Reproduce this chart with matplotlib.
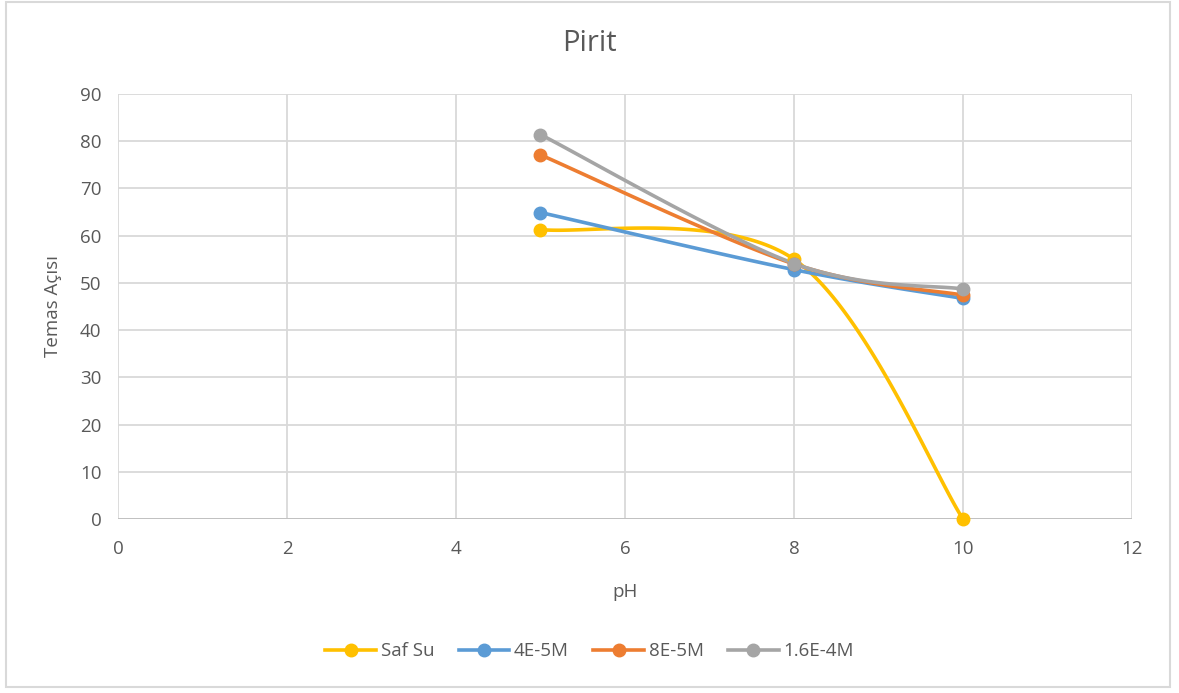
import numpy as np
import matplotlib
matplotlib.use("Agg")
import matplotlib.pyplot as plt
from matplotlib.patches import Rectangle
from matplotlib.lines import Line2D

plt.rcParams["font.family"] = ["Open Sans", "DejaVu Sans"]

# ---- data --------------------------------------------------------------------
ph = [5, 8, 10]
saf_su = [61.3, 55.0, 0.0]
c_4e5 = [64.9, 52.8, 46.7]
c_8e5 = [77.1, 54.0, 47.4]
c_16e4 = [81.4, 54.1, 48.7]

SERIES = [
    ("Saf Su", saf_su, "#FFC000"),
    ("4E-5M", c_4e5, "#5B9BD5"),
    ("8E-5M", c_8e5, "#ED7D31"),
    ("1.6E-4M", c_16e4, "#A5A5A5"),
]

TXT = "#595959"
GRID = "#d9d9d9"


def smooth(ax, xs, ys, n=60):
    """Excel-style smoothed line: Catmull-Rom Bezier built in display space."""
    pts = ax.transData.transform(np.column_stack([xs, ys]))
    out = []
    m = len(pts)
    for i in range(m - 1):
        p0 = pts[max(i - 1, 0)]
        p1, p2 = pts[i], pts[i + 1]
        p3 = pts[min(i + 2, m - 1)]
        c1 = p1 + (p2 - p0) / 6
        c2 = p2 - (p3 - p1) / 6
        t = np.linspace(0, 1, n)[:, None]
        seg = ((1 - t) ** 3 * p1 + 3 * (1 - t) ** 2 * t * c1
               + 3 * (1 - t) * t ** 2 * c2 + t ** 3 * p2)
        out.append(seg if i == 0 else seg[1:])
    out = np.vstack(out)
    return ax.transData.inverted().transform(out)


fig = plt.figure(figsize=(11.79, 6.93), dpi=100)
ax = fig.add_axes([0.1001, 0.2511, 0.8600, 0.6133])
ax.set_xlim(0, 12)
ax.set_ylim(0, 90)
ax.set_xticks(range(0, 13, 2))
ax.set_yticks(range(0, 91, 10))
ax.grid(True, color=GRID, lw=1.3)
ax.set_axisbelow(True)
for s in ax.spines.values():
    s.set_visible(False)
ax.axhline(0, color="#bfbfbf", lw=1.3, zorder=1)
ax.tick_params(length=0, labelsize=13.5, labelcolor=TXT)
ax.tick_params(axis="x", pad=15)
ax.tick_params(axis="y", pad=12)

handles = []
for name, vals, col in SERIES:
    curve = smooth(ax, ph, vals)
    ax.plot(curve[:, 0], curve[:, 1], color=col, lw=2.6, solid_capstyle="round",
            zorder=3, clip_on=False)
    ax.plot(ph, vals, "o", color=col, ms=9, zorder=4, clip_on=False)
    handles.append(Line2D([0], [0], color=col, lw=2.6, marker="o", ms=9, label=name))

ax.set_xlabel("pH", fontsize=13.5, color=TXT, labelpad=18)
ax.set_ylabel("Temas Açısı", fontsize=13.5, color=TXT, labelpad=13)
fig.text(0.5, 0.937, "Pirit", ha="center", va="center", fontsize=21, color=TXT)

fig.legend(handles=handles, loc="center", bbox_to_anchor=(0.5, 0.06), ncol=4,
           frameon=False, fontsize=13.5, handlelength=2.7, handletextpad=0.25,
           columnspacing=1.3, labelcolor=TXT)

fig.patches.append(Rectangle((6 / 1179, 1 - 687 / 693), 1164 / 1179, 685 / 693,
                             transform=fig.transFigure, fill=False,
                             edgecolor=GRID, lw=1.5))

fig.savefig("out.png", dpi=100, facecolor="white")
